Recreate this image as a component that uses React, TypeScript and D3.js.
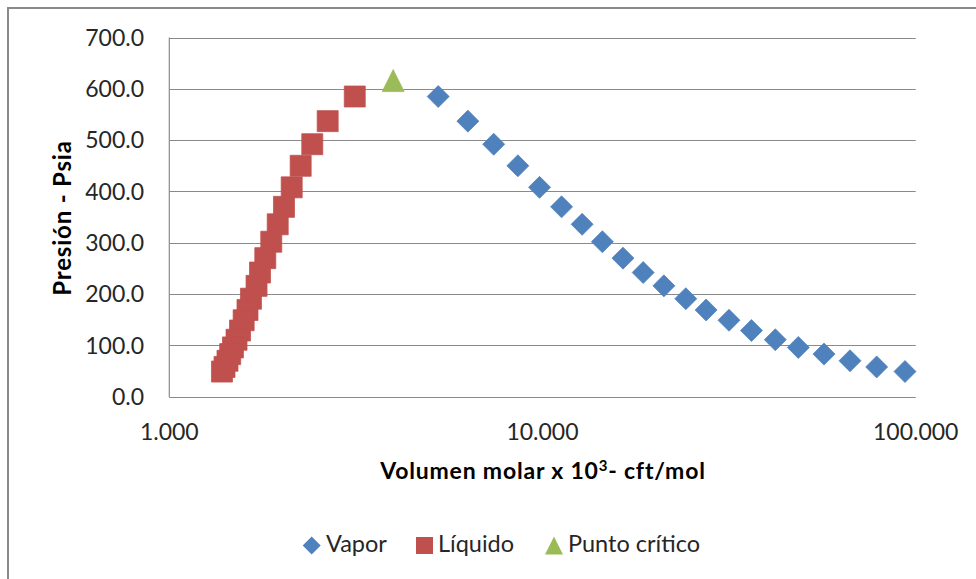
import React from "react";
import * as d3 from "d3";

const pressures = [585, 537, 492, 450, 408, 370, 336, 302, 270, 242, 216, 191, 169, 149, 129, 111, 96, 83, 70, 58, 49];
const vaporVolumes = [5.255, 6.31, 7.4, 8.59, 9.82, 11.25, 12.77, 14.47, 16.43, 18.61, 21.15, 24.21, 27.44, 31.6, 36.29, 42.06, 48.47, 56.79, 66.68, 78.6, 93.6];
const liquidVolumes = [3.14, 2.657, 2.416, 2.249, 2.128, 2.029, 1.952, 1.876, 1.808, 1.75, 1.713, 1.655, 1.62, 1.582, 1.547, 1.514, 1.481, 1.456, 1.432, 1.406, 1.384];
const criticalVolume = [3.98];
const criticalPressure = [616];
const yTicks = [0, 100, 200, 300, 400, 500, 600, 700];
const xTicks = [1, 10, 100];
const legendLabels = ["Vapor", "Líquido", "Punto crítico"];

const W = 976;
const H = 579;
const M = { left: 169.3, right: 915.7, top: 37.5, bottom: 396.7 };
const FONT = "Lato, 'Open Sans', sans-serif";
const BLUE = "#4F81BD";
const RED = "#C0504D";
const GREEN = "#9BBB59";
const GRID = "#8a8a8a";

const diamond = (cx: number, cy: number, r: number) =>
  `M${cx},${cy - r}L${cx + r},${cy}L${cx},${cy + r}L${cx - r},${cy}Z`;
const square = (cx: number, cy: number, h: number) =>
  `M${cx - h},${cy - h}H${cx + h}V${cy + h}H${cx - h}Z`;
const triangle = (cx: number, cy: number, h: number) =>
  `M${cx},${cy - h}L${cx + h},${cy + h}L${cx - h},${cy + h}Z`;

export default function App() {
  const x = d3.scaleLog().domain([1, 100]).range([M.left, M.right]);
  const y = d3.scaleLinear().domain([0, 700]).range([M.bottom, M.top]);
  const fmtY = d3.format(".1f");
  const fmtX = d3.format(".3f");

  const vapor = vaporVolumes.map((v, i) => ({ v, p: pressures[i] }));
  const liquid = liquidVolumes.map((v, i) => ({ v, p: pressures[i] }));
  const crit = criticalVolume.map((v, i) => ({ v, p: criticalPressure[i] }));

  return (
    <svg width={W} height={H} style={{ position: "absolute", left: 0, top: 0, background: "#fff" }}>
      <rect x={8} y={8} width={W + 20} height={H + 20} fill="#fff" stroke={GRID} strokeWidth={2} />
      {yTicks.map((t) => (
        <line key={"g" + t} x1={M.left} x2={M.right} y1={Math.round(y(t)) + 0.5} y2={Math.round(y(t)) + 0.5} stroke={GRID} strokeWidth={1.2} />
      ))}
      <line x1={M.left} x2={M.left} y1={M.top} y2={M.bottom + 0.5} stroke={GRID} strokeWidth={1.2} />
      {yTicks.map((t) => (
        <text key={"yl" + t} x={144} y={y(t)} dy="0.36em" textAnchor="end" fontFamily={FONT} fontSize={23} fill="#262626">
          {fmtY(t)}
        </text>
      ))}
      {xTicks.map((t) => (
        <text key={"xl" + t} x={x(t)} y={440} textAnchor="middle" fontFamily={FONT} fontSize={23} fill="#262626">
          {fmtX(t)}
        </text>
      ))}
      <text x={543} y={479} textAnchor="middle" fontFamily={FONT} fontWeight="bold" fontSize={23} letterSpacing={0.8} fill="#000">
        Volumen molar x 10<tspan dy={-8} fontSize={15}>3</tspan>
        <tspan dy={8}>- cft/mol</tspan>
      </text>
      <text transform="translate(71,218) rotate(-90)" textAnchor="middle" fontFamily={FONT} fontWeight="bold" fontSize={24} letterSpacing={0.8} fill="#000">
        Presión - Psia
      </text>
      <g>
        {vapor.map((d, i) => (
          <path key={"v" + i} d={diamond(x(d.v), y(d.p), 11)} fill={BLUE} stroke={BLUE} strokeWidth={0.75} />
        ))}
      </g>
      <g>
        {liquid.map((d, i) => (
          <path key={"l" + i} d={square(x(d.v), y(d.p), 10.5)} fill={RED} stroke={RED} strokeWidth={0.75} />
        ))}
      </g>
      <g>
        {crit.map((d, i) => (
          <path key={"c" + i} d={triangle(x(d.v), y(d.p), 11)} fill={GREEN} stroke={GREEN} strokeWidth={0.75} />
        ))}
      </g>
      <g fontFamily={FONT} fontSize={23.5} fill="#262626">
        <path d={diamond(311.7, 545.5, 9)} fill={BLUE} />
        <text x={326} y={552}>{legendLabels[0]}</text>
        <path d={square(424.5, 545.5, 8.5)} fill={RED} />
        <text x={438} y={552}>{legendLabels[1]}</text>
        <path d={triangle(554, 545.5, 9)} fill={GREEN} />
        <text x={568} y={552}>{legendLabels[2]}</text>
      </g>
    </svg>
  );
}
